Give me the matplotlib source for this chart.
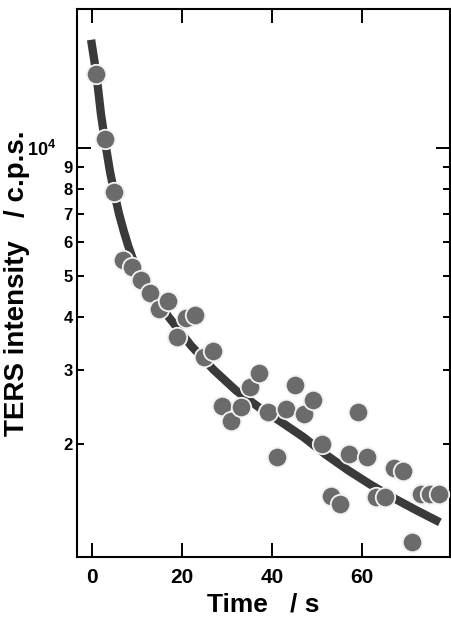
import numpy as np
import matplotlib
matplotlib.use("Agg")
import matplotlib.pyplot as plt
from matplotlib.ticker import FixedLocator, NullFormatter

plt.rcParams['font.family'] = ['Liberation Sans', 'DejaVu Sans']
plt.rcParams['font.weight'] = 'bold'
plt.rcParams['mathtext.fontset'] = 'custom'
plt.rcParams['mathtext.rm'] = 'Liberation Sans:bold'
plt.rcParams['mathtext.bf'] = 'Liberation Sans:bold'

# measured TERS intensity (c.p.s.) vs time (s)
time_s = [1, 3, 5, 7, 9, 11, 13, 15, 17, 19, 21, 23, 25, 27, 29, 31, 33, 35, 37, 39,
          41, 43, 45, 47, 49, 51, 53, 55, 57, 59, 61, 63, 65, 67, 69, 71, 73, 75, 77]
intensity = [14940, 10480, 7860, 5445, 5250, 4880, 4540, 4165, 4355, 3590,
             3965, 4040, 3220, 3320, 2465, 2275, 2445, 2735, 2940, 2385,
             1870, 2425, 2760, 2360, 2545, 2000, 1515, 1445, 1895, 2385,
             1870, 1505, 1500, 1760, 1730, 1180, 1525, 1525, 1525]

# fitted decay curve
fit_t = [-0.2, 1, 2, 3, 4, 5, 6, 7, 8, 9, 10, 12, 14, 17, 22, 27, 32, 37, 42, 47, 52,
         57, 62, 67, 72, 77.3]
fit_y = [18000, 14900, 12000, 10200, 8800, 7800, 7000, 6400, 5900, 5500, 5200, 4800,
         4450, 4000, 3420, 3000, 2680, 2450, 2260, 2080, 1890, 1735, 1605, 1495, 1400, 1310]

xticks = [0, 20, 40, 60]
ymajor = [10000]
yminor = [2000, 3000, 4000, 5000, 6000, 7000, 8000, 9000]
yminor_labels = ['2', '3', '4', '5', '6', '7', '8', '9']

fig = plt.figure(figsize=(4.51, 6.24), dpi=100)
ax = fig.add_axes([77 / 451, 1 - 557 / 624, (449.5 - 77) / 451, (557 - 9) / 624])

ax.plot(fit_t, fit_y, color='#3a3a3a', lw=6, solid_capstyle='butt', zorder=2)
ax.plot(time_s, intensity, 'o', ms=14, mfc='#6b6b6b', mec='#f2f2f2', mew=1.3, zorder=3)

ax.set_yscale('log')
ax.set_xlim(-3.33, 79.44)
ax.set_ylim(1085, 21275)

ax.set_xticks(xticks)
ax.set_xticklabels([str(v) for v in xticks], fontsize=15, fontweight='bold')
ax.yaxis.set_major_locator(FixedLocator(ymajor))
ax.yaxis.set_minor_locator(FixedLocator(yminor))
ax.set_yticklabels([r'$\mathbf{10^{4}}$'], fontsize=13)
ax.set_yticklabels(yminor_labels, minor=True, fontsize=12, fontweight='bold')
ax.xaxis.set_minor_formatter(NullFormatter())

ax.tick_params(axis='both', which='major', direction='in', length=10, width=1.4,
               top=True, right=True)
ax.tick_params(axis='both', which='minor', direction='in', length=5, width=1.4,
               top=True, right=True)
ax.tick_params(axis='x', which='major', pad=8)
ax.tick_params(axis='y', which='major', pad=15)
ax.tick_params(axis='y', which='minor', pad=3)

for s in ax.spines.values():
    s.set_linewidth(1.5)

ax.set_xlabel('Time   / s', fontsize=19, fontweight='bold', labelpad=4)
ax.set_ylabel('TERS intensity   / c.p.s.', fontsize=20, fontweight='bold')
ax.yaxis.set_label_coords(-0.125, 0.5)

fig.savefig('out.png', dpi=100)
